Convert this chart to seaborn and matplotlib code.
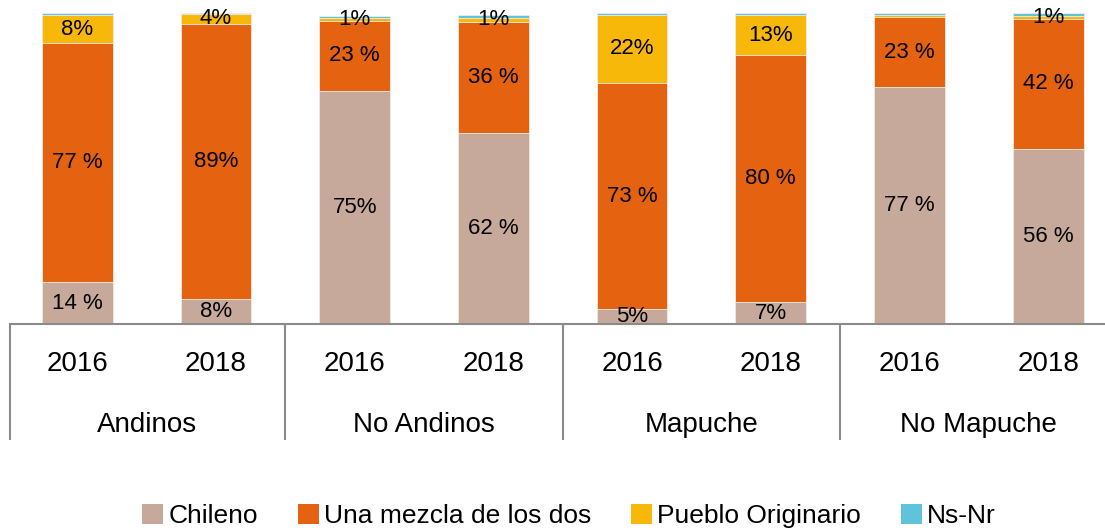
import matplotlib
matplotlib.use("Agg")
import matplotlib.pyplot as plt
import matplotlib.transforms as mtransforms
from matplotlib.patches import Patch
import numpy as np
import pandas as pd
import seaborn as sns

groups = ["Andinos", "No Andinos", "Mapuche", "No Mapuche"]
years = ["2016", "2018"]
series = ["Chileno", "Una mezcla de los dos", "Pueblo Originario", "Ns-Nr"]

chileno = [13.5, 8, 75, 61.5, 4.8, 7, 76.2, 56.3]
mezcla = [77, 88.5, 22.5, 35.7, 72.7, 79.4, 22.5, 41.8]
pueblo = [8.7, 3.3, 1.0, 1.3, 21.9, 12.9, 0.6, 1.0]
nsnr = [0.8, 0.2, 0.6, 1.0, 0.6, 0.6, 0.6, 1.0]

chileno_lbl = ["14 %", "8%", "75%", "62 %", "5%", "7%", "77 %", "56 %"]
mezcla_lbl = ["77 %", "89%", "23 %", "36 %", "73 %", "80 %", "23 %", "42 %"]
pueblo_lbl = ["8%", "4%", "1%", "1%", "22%", "13%", "", "1%"]

colors = ["#C6A99B", "#E46210", "#F8B80A", "#5FC3DC"]

sns.set_theme(style="white")
plt.rcParams["font.family"] = ["Liberation Sans", "DejaVu Sans"]
plt.rcParams["text.color"] = "black"

cats = [f"{g}|{y}" for g in groups for y in years]
vals = np.array([chileno, mezcla, pueblo, nsnr])
cum = np.cumsum(vals, axis=0)

fig = plt.figure(figsize=(11.05, 5.32), dpi=100)
ax = fig.add_axes([10 / 1105, 208 / 532, 1 - 10 / 1105, 311 / 532])

for i in range(3, -1, -1):
    df = pd.DataFrame({"cat": cats, "v": cum[i]})
    sns.barplot(data=df, x="cat", y="v", order=cats, color=colors[i],
                width=0.51, saturation=1, edgecolor="#f3ece8", linewidth=0.6, ax=ax)

ax.set_xlim(-0.485, 7.41)
ax.set_ylim(0, 100)
ax.set_xlabel("")
ax.set_ylabel("")
ax.set_xticks([])
ax.set_yticks([])
for s in ["top", "right", "left"]:
    ax.spines[s].set_visible(False)
ax.spines["bottom"].set_color("#8a8a8a")
ax.spines["bottom"].set_linewidth(1.5)

# bar labels
lbl_fs = 16
for i, lbls in enumerate([chileno_lbl, mezcla_lbl, pueblo_lbl]):
    for j, t in enumerate(lbls):
        if not t:
            continue
        mid = cum[i][j] - vals[i][j] / 2
        ax.text(j, mid, t, ha="center", va="center", fontsize=lbl_fs, color="black")

# category axis
trans = mtransforms.blended_transform_factory(ax.transData, ax.transAxes)
for j, c in enumerate(cats):
    g, y = c.split("|")
    ax.text(j, -0.13, y, transform=trans, ha="center", va="center", fontsize=20, color="black")
for k, g in enumerate(groups):
    ax.text(2 * k + 0.5, -0.325, g, transform=trans, ha="center", va="center", fontsize=20, color="black")
for xb in [-0.485, 1.5, 3.5, 5.5]:
    ax.plot([xb, xb], [0, -0.373], transform=trans, color="#8a8a8a", lw=1.5,
            clip_on=False, solid_capstyle="butt")

handles = [Patch(facecolor=c, edgecolor="none") for c in colors]
leg = fig.legend(handles, series, loc="center", bbox_to_anchor=(0.515, 0.03), ncol=4,
                 frameon=False, fontsize=19, handlelength=0.8, handleheight=0.8,
                 handletextpad=0.2, columnspacing=1.5)
for t in leg.get_texts():
    t.set_color("black")

fig.savefig("out.png", dpi=100)
